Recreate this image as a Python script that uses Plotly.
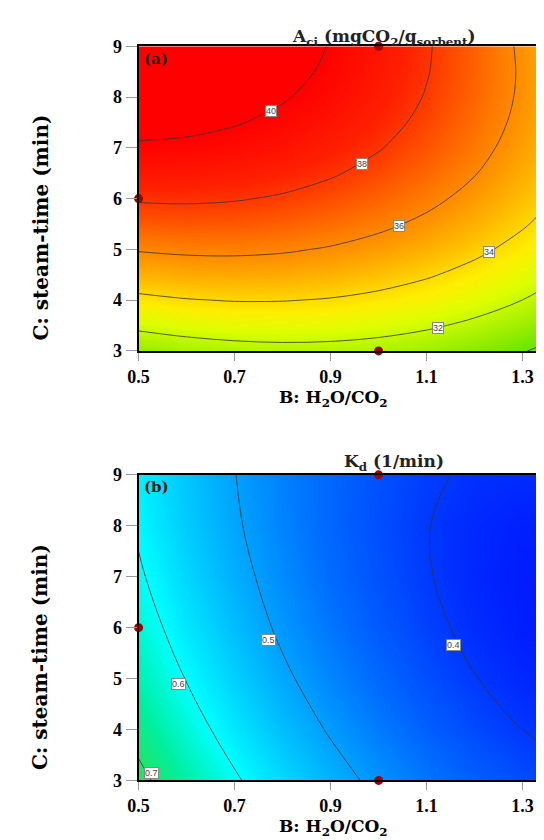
import plotly.graph_objects as go

# ---------------- data ----------------
# B: H2O/CO2 grid (x) and C: steam-time grids (y)
B_vals = [0.5, 0.6, 0.7, 0.8, 0.9, 1.0, 1.1, 1.2, 1.3, 1.4]
C_vals_a = [3, 3.5, 4, 4.5, 5, 5.5, 6, 6.5, 7, 7.5, 8, 8.5, 9]
C_vals_b = [3, 4, 5, 6, 7, 8, 9]

# (a) Aci (mgCO2/g sorbent), one row per steam-time
aci_c30 = [30.85, 31.22, 31.46, 31.57, 31.54, 31.38, 31.08, 30.64, 30.07, 29.37]
aci_c35 = [32.31, 32.63, 32.81, 32.86, 32.77, 32.55, 32.20, 31.71, 31.08, 30.32]
aci_c40 = [33.67, 33.93, 34.06, 34.05, 33.91, 33.63, 33.22, 32.67, 31.99, 31.17]
aci_c45 = [34.94, 35.14, 35.21, 35.15, 34.95, 34.62, 34.15, 33.54, 32.80, 31.93]
aci_c50 = [36.10, 36.25, 36.27, 36.15, 35.89, 35.50, 34.98, 34.32, 33.52, 32.59]
aci_c55 = [37.18, 37.27, 37.23, 37.05, 36.74, 36.29, 35.71, 34.99, 34.14, 33.16]
aci_c60 = [38.15, 38.19, 38.09, 37.86, 37.49, 36.99, 36.35, 35.57, 34.67, 33.62]
aci_c65 = [39.03, 39.01, 38.85, 38.56, 38.14, 37.58, 36.89, 36.06, 35.09, 33.99]
aci_c70 = [39.81, 39.73, 39.52, 39.18, 38.69, 38.08, 37.33, 36.44, 35.42, 34.27]
aci_c75 = [40.49, 40.36, 40.09, 39.69, 39.15, 38.48, 37.67, 36.73, 35.65, 34.44]
aci_c80 = [41.08, 40.89, 40.57, 40.11, 39.51, 38.79, 37.92, 36.92, 35.79, 34.52]
aci_c85 = [41.57, 41.32, 40.94, 40.43, 39.78, 38.99, 38.07, 37.02, 35.83, 34.50]
aci_c90 = [41.96, 41.66, 41.22, 40.65, 39.94, 39.10, 38.13, 37.02, 35.77, 34.39]

# (b) Kd (1/min), one row per steam-time
kd_c3 = [0.715, 0.658, 0.607, 0.561, 0.521, 0.487, 0.458, 0.435, 0.418, 0.406]
kd_c4 = [0.680, 0.625, 0.576, 0.532, 0.495, 0.463, 0.436, 0.415, 0.400, 0.391]
kd_c5 = [0.650, 0.598, 0.551, 0.509, 0.474, 0.444, 0.419, 0.401, 0.388, 0.381]
kd_c6 = [0.626, 0.575, 0.531, 0.491, 0.458, 0.430, 0.408, 0.392, 0.381, 0.376]
kd_c7 = [0.607, 0.558, 0.516, 0.479, 0.447, 0.422, 0.402, 0.388, 0.379, 0.376]
kd_c8 = [0.593, 0.546, 0.506, 0.471, 0.442, 0.419, 0.401, 0.389, 0.382, 0.382]
kd_c9 = [0.584, 0.540, 0.501, 0.469, 0.442, 0.421, 0.405, 0.395, 0.391, 0.393]

# design points shown on the plots
design_B = [1.0, 0.5, 1.0]
design_C = [9, 6, 3]

# contour levels
aci_levels = [30, 32, 34, 36, 38, 40]
kd_levels = [0.4, 0.5, 0.6, 0.7]

x_ticks = [0.5, 0.7, 0.9, 1.1, 1.3]
y_ticks = [3, 4, 5, 6, 7, 8, 9]

aci_z = [aci_c30, aci_c35, aci_c40, aci_c45, aci_c50, aci_c55, aci_c60,
         aci_c65, aci_c70, aci_c75, aci_c80, aci_c85, aci_c90]
kd_z = [kd_c3, kd_c4, kd_c5, kd_c6, kd_c7, kd_c8, kd_c9]

# ---------------- styling ----------------
SERIF = "Liberation Serif"
WIDE = "DejaVu Serif"
cs_a = [[0.0, '#40e000'], [0.134, '#99ee00'], [0.252, '#ddff00'], [0.331, '#ffee00'],
        [0.449, '#ffb000'], [0.567, '#ff7700'], [0.724, '#ff2200'], [0.843, '#ff0000'], [1.0, '#ff0000']]
cs_b = [[0.0, '#0010ff'], [0.143, '#0050ff'], [0.371, '#00a0ff'], [0.657, '#00ffff'],
        [0.829, '#00f0a0'], [1.0, '#30e050']]

fig = go.Figure()
fig.add_trace(go.Contour(
    x=B_vals, y=C_vals_a, z=aci_z, xaxis='x', yaxis='y', showscale=False,
    colorscale=cs_a, zmin=29.3, zmax=42,
    contours=dict(start=aci_levels[0], end=aci_levels[-1], size=aci_levels[1] - aci_levels[0],
                  coloring='heatmap', showlabels=False),
    line=dict(color='#333333', width=0.8, smoothing=1.0), hoverinfo='skip'))
fig.add_trace(go.Contour(
    x=B_vals, y=C_vals_b, z=kd_z, xaxis='x2', yaxis='y2', showscale=False,
    colorscale=cs_b, zmin=0.37, zmax=0.72,
    contours=dict(start=kd_levels[0], end=kd_levels[-1], size=0.1,
                  coloring='heatmap', showlabels=False),
    line=dict(color='#333333', width=0.8, smoothing=1.1), hoverinfo='skip'))
for xa_, ya_ in (('x', 'y'), ('x2', 'y2')):
    fig.add_trace(go.Scatter(x=design_B, y=design_C, mode='markers', xaxis=xa_, yaxis=ya_,
                             cliponaxis=False, hoverinfo='skip',
                             marker=dict(color='#a00000', size=9, line=dict(width=0))))

tickfont = dict(family=SERIF, size=18, color='black', weight='bold')
xa = dict(range=[0.5, 1.3612], domain=[0.2243, 1.0], tickvals=x_ticks, ticktext=[f"{v:.1f}" for v in x_ticks],
          ticks='outside', ticklen=8, tickwidth=1, tickcolor='#999999', tickfont=tickfont,
          showline=True, mirror=True, linecolor='black', linewidth=2,
          showgrid=False, zeroline=False)
ya = dict(range=[3, 9], tickvals=y_ticks, ticks='outside', ticklen=11, tickwidth=1,
          tickcolor='#999999', tickfont=tickfont, showline=True, mirror=False,
          linecolor='black', linewidth=2, showgrid=False, zeroline=False)

fig.update_layout(
    width=544, height=840, margin=dict(l=0, r=0, t=0, b=0), showlegend=False,
    paper_bgcolor='white', plot_bgcolor='white',
    xaxis=dict(xa, anchor='y'), yaxis=dict(ya, domain=[0.594, 0.9655], anchor='x'),
    xaxis2=dict(xa, anchor='y2'), yaxis2=dict(ya, domain=[0.0702, 0.4429], anchor='x2'),
)

# contour labels (white boxed, horizontal), placed on their contour lines
lab_font = dict(family='Arial', size=9, color='#444444')
a_labels = [(aci_levels[5], 0.776, 7.72), (aci_levels[4], 0.965, 6.69), (aci_levels[3], 1.043, 5.46),
            (aci_levels[2], 1.23, 4.94), (aci_levels[1], 1.124, 3.45)]
b_labels = [(kd_levels[0], 1.155, 5.65), (kd_levels[1], 0.771, 5.75), (kd_levels[2], 0.584, 4.90),
            (kd_levels[3], 0.527, 3.15)]
for lev, bx, cy in a_labels:
    fig.add_annotation(x=bx, y=cy, xref='x', yref='y', text=f"{lev:g}", showarrow=False,
                       bgcolor='white', bordercolor='#888888', borderwidth=1, borderpad=0, font=lab_font)
for lev, bx, cy in b_labels:
    fig.add_annotation(x=bx, y=cy, xref='x2', yref='y2', text=f"{lev:.1f}", showarrow=False,
                       bgcolor='white', bordercolor='#888888', borderwidth=1, borderpad=0, font=lab_font)

title_font = dict(family=WIDE, size=17, color='black', weight='bold')
ytitle_font = dict(family=WIDE, size=20, color='black', weight='bold')
head_font = dict(family=WIDE, size=17, color='#222222', weight='bold')
ann = [
    dict(text="A<sub>ci</sub> (mgCO<sub>2</sub>/g<sub>sorbent</sub>)", x=373/544, y=1-20/840,
         font=head_font),
    dict(text="K<sub>d</sub> (1/min)", x=383/544, y=1-455/840, font=head_font),
    dict(text="B: H<sub>2</sub>O/CO<sub>2</sub>", x=321/544, y=1-390/840, font=title_font),
    dict(text="B: H<sub>2</sub>O/CO<sub>2</sub>", x=321/544, y=1-829/840, font=title_font),
    dict(text="C: steam-time (min)", x=22/544, y=1-215/840, textangle=-90, font=ytitle_font),
    dict(text="C: steam-time (min)", x=22/544, y=1-655/840, textangle=-90, font=ytitle_font),
]
for a in ann:
    fig.add_annotation(xref='paper', yref='paper', showarrow=False, xanchor='center', yanchor='middle', **a)
for xr, yr, lab in (('x domain', 'y domain', '(a)'), ('x2 domain', 'y2 domain', '(b)')):
    fig.add_annotation(xref=xr, yref=yr, x=0.008, y=0.995,
                       xanchor='left', yanchor='top', showarrow=False, text=lab,
                       font=dict(family=WIDE, size=15, color='#2a1a1a', weight='bold'))

fig.write_html("out.html")
